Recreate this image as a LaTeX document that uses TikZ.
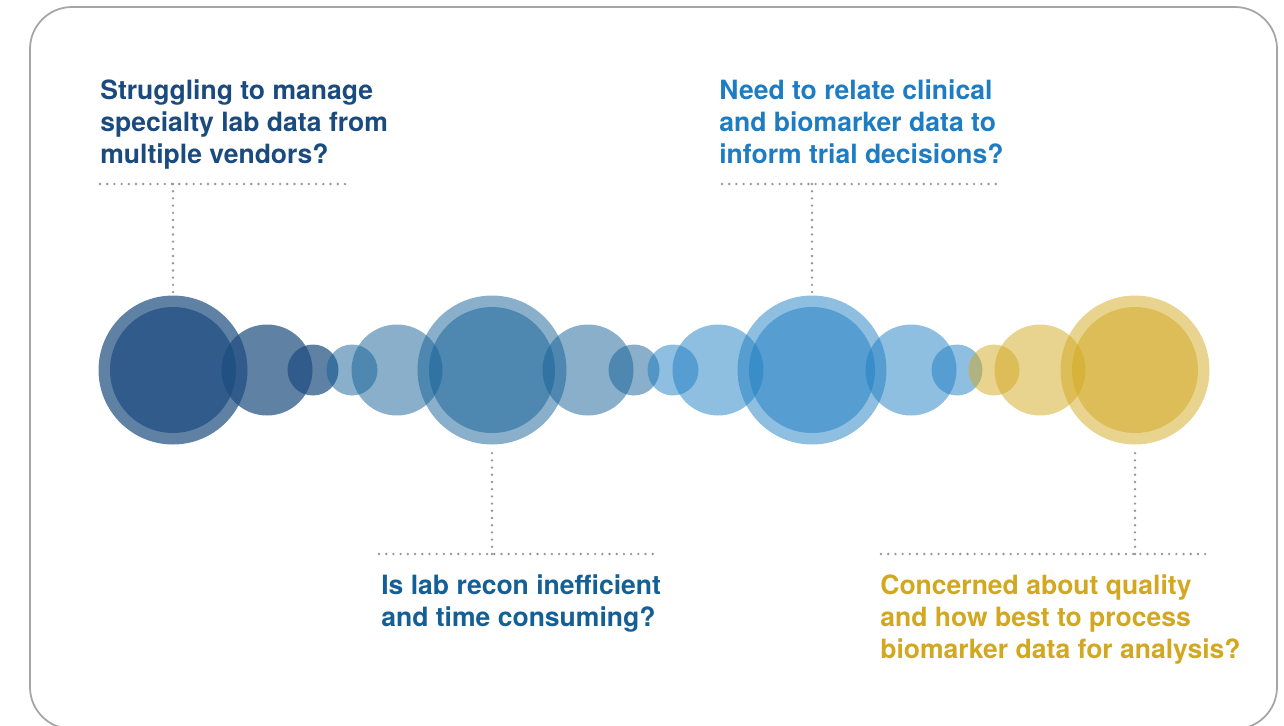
\documentclass[tikz,border=0pt]{standalone}
\usepackage{fontspec}
\setmainfont{TeX Gyre Heros}
\usetikzlibrary{positioning}
\definecolor{navyq}{RGB}{27,75,126}
\definecolor{steelq}{RGB}{20,96,150}
\definecolor{blueq}{RGB}{30,125,194}
\definecolor{goldq}{RGB}{210,168,32}
\definecolor{framegray}{RGB}{165,165,165}
\definecolor{dotgray}{RGB}{150,150,150}
\tikzset{
bubble/.style={circle, draw=none, inner sep=0pt, fill opacity=0.5},
bigbub/.style={bubble, minimum size=2.98cm},
corebub/.style={bubble, minimum size=2.52cm},
midbub/.style={bubble, minimum size=1.82cm},
smallbub/.style={bubble, minimum size=1.02cm},
navy/.style={fill=navyq, fill opacity=0.7},
steel/.style={fill=steelq},
blue/.style={fill=blueq},
gold/.style={fill=goldq},
question/.style={anchor=north west, inner sep=0pt, align=left,
  font=\fontsize{15.1}{18.2}\selectfont\bfseries},
leader/.style={draw=dotgray, line width=1.5pt, line cap=round,
  dash pattern=on 0pt off 4.1pt},
}

\begin{document}
\begin{tikzpicture}[x=0.02cm,y=-0.02cm]
\useasboundingbox (0,0) rectangle (1284,725);
\draw[framegray, line width=1pt, rounded corners=0.84cm] (30,7) rectangle (1277,729);

% bubbles, left to right
\node[bigbub,navy] (b1) at (173,370) {};
\node[corebub,navy] (c1) at (b1) {};
\node[midbub,navy] (m1) at (267,370) {};
\node[smallbub,navy] (s1) at (313,370) {};
\node[smallbub,steel] (s2) at (352,370) {};
\node[midbub,steel] (m2) at (397,370) {};
\node[bigbub,steel] (b2) at (492,370) {};
\node[corebub,steel] (c2) at (b2) {};
\node[midbub,steel] (m3) at (588,370) {};
\node[smallbub,steel] (s3) at (634,370) {};
\node[smallbub,blue] (s4) at (673,370) {};
\node[midbub,blue] (m4) at (718,370) {};
\node[bigbub,blue] (b3) at (812,370) {};
\node[corebub,blue] (c3) at (b3) {};
\node[midbub,blue] (m5) at (911,370) {};
\node[smallbub,blue] (s5) at (957,370) {};
\node[smallbub,gold] (s6) at (994,370) {};
\node[midbub,gold] (m6) at (1040,370) {};
\node[bigbub,gold] (b4) at (1135,370) {};
\node[corebub,gold] (c4) at (b4) {};

% questions
\node[question,text=navyq] (q1) at (100,79) {Struggling to manage\\specialty lab data from\\multiple vendors?};
\node[question,text=blueq] (q2) at (719,79) {Need to relate clinical\\and biomarker data to\\inform trial decisions?};
\node[question,text=steelq] (q3) at (381,574) {Is lab recon inefficient\\and time consuming?};
\node[question,text=goldq] (q4) at (880,574) {Concerned about quality\\and how best to process\\biomarker data for analysis?};

% dotted leaders
\coordinate (r1a) at (100,184); \coordinate (r1b) at (348,184);
\coordinate (r2a) at (722,184); \coordinate (r2b) at (998,184);
\coordinate (r3a) at (379,554); \coordinate (r3b) at (657,554);
\coordinate (r4a) at (881,554); \coordinate (r4b) at (1207,554);
\draw[leader] (r1a) -- (r1b);
\draw[leader] (r2a) -- (r2b);
\draw[leader] (r3a) -- (r3b);
\draw[leader] (r4a) -- (r4b);
\draw[leader, shorten >=1.5pt] (b1.north |- r1a) -- (b1.north);
\draw[leader, shorten >=1.5pt] (b3.north |- r2a) -- (b3.north);
\draw[leader, shorten >=1.5pt] (b2.south |- r3a) -- (b2.south);
\draw[leader, shorten >=1.5pt] (b4.south |- r4a) -- (b4.south);
\end{tikzpicture}
\end{document}
